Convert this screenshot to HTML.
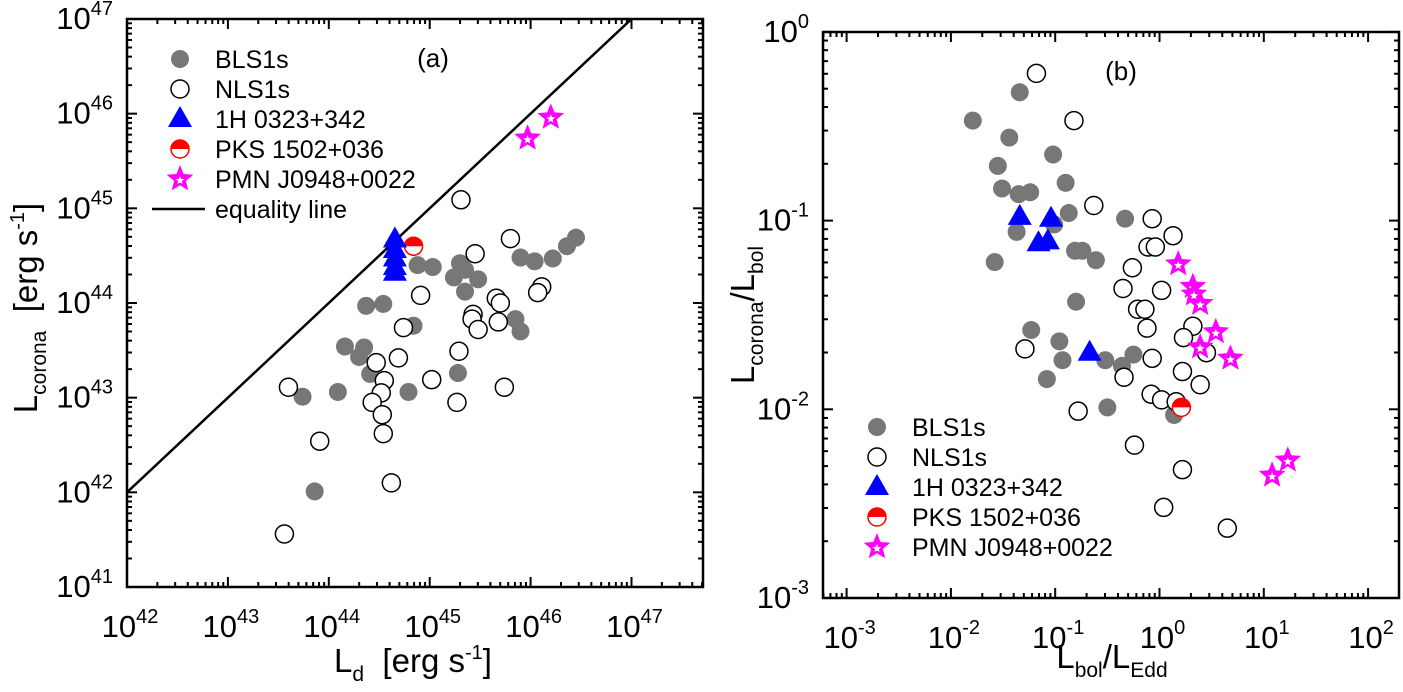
<!DOCTYPE html>
<html><head><meta charset="utf-8">
<style>
html,body{margin:0;padding:0;background:#fff;}
svg{display:block;font-family:"Liberation Sans",Arial,sans-serif;}
</style></head>
<body>
<svg id="fig" width="1403" height="692" viewBox="0 0 1403 692" xmlns="http://www.w3.org/2000/svg"></svg>
<script>
// ---------- Panel (a) data: log10 values ----------
const aBlsX = [44.88,45.03,45.30,45.35,45.24,45.48,45.35,45.90,46.04,46.22,46.36,46.45,44.37,44.54,45.85,45.90,44.84,44.16,44.35,44.30,44.41,44.09,43.74,44.79,45.28,43.86];
const aBlsY = [44.40,44.38,44.42,44.35,44.27,44.25,44.12,44.48,44.44,44.47,44.60,44.69,43.97,43.99,43.83,43.70,43.76,43.54,43.53,43.43,43.25,43.06,43.01,43.06,43.26,42.01];
const aNlsX = [45.31,45.80,45.45,44.91,46.11,46.07,45.66,45.70,45.43,45.42,45.48,45.68,44.74,44.69,44.47,45.29,44.55,44.52,44.43,44.53,45.02,45.27,45.74,43.60,43.91,44.54,44.62,43.56];
const aNlsY = [45.09,44.68,44.52,44.08,44.17,44.11,44.05,44.00,43.88,43.83,43.72,43.80,43.74,43.42,43.37,43.49,43.18,43.05,42.95,42.82,43.19,42.95,43.11,43.11,42.54,42.62,42.10,41.56];
const aTriX = [44.655,44.655,44.655,44.655,44.655];
const aTriY = [44.67,44.56,44.47,44.38,44.32];
const aPksX = [44.84];
const aPksY = [44.60];
const aStarX = [45.97,46.20];
const aStarY = [45.74,45.96];
const aXTicks = [42,43,44,45,46,47];
const aYTicks = [41,42,43,44,45,46,47];

// ---------- Panel (b) data: log10 values ----------
const bBlsX = [-1.79,-1.34,-1.44,-1.55,-1.02,-1.51,-1.35,-1.24,-0.90,-0.87,-1.01,-1.37,-1.58,-0.81,-0.74,-0.61,-0.33,-0.80,-1.23,-0.96,-0.93,-1.08,-0.52,-0.36,-0.25,-0.50,0.14];
const bBlsY = [-0.47,-0.32,-0.56,-0.71,-0.65,-0.83,-0.86,-0.85,-0.80,-0.96,-1.02,-1.06,-1.22,-1.16,-1.16,-1.21,-0.99,-1.43,-1.58,-1.64,-1.74,-1.84,-1.74,-1.77,-1.71,-1.99,-2.03];
const bNlsX = [-1.18,-0.82,-0.63,-0.07,0.13,-0.11,-0.04,-0.26,-0.35,0.02,-0.21,-0.14,-0.12,0.32,0.23,0.45,-1.29,-0.07,-0.34,0.22,0.39,-0.08,0.02,0.16,-0.78,-0.24,0.22,0.04,0.65];
const bNlsY = [-0.22,-0.47,-0.92,-0.99,-1.08,-1.14,-1.14,-1.25,-1.36,-1.37,-1.47,-1.47,-1.57,-1.56,-1.62,-1.70,-1.68,-1.73,-1.83,-1.80,-1.87,-1.92,-1.95,-1.96,-2.01,-2.19,-2.32,-2.52,-2.63];
const bTriX = [-1.34,-1.04,-1.16,-1.07,-0.67];
const bTriY = [-0.98,-0.99,-1.12,-1.11,-1.70];
const bPksX = [0.21];
const bPksY = [-1.99];
const bStarX = [0.18,0.32,0.33,0.39,0.54,0.39,0.68,1.08,1.23];
const bStarY = [-1.23,-1.35,-1.39,-1.44,-1.59,-1.67,-1.73,-2.35,-2.27];
const bXTicks = [-3,-2,-1,0,1,2];
const bYTicks = [-3,-2,-1,0];

const NS = "http://www.w3.org/2000/svg";
const svg = document.getElementById('fig');
function el(tag, attrs, parent){ const e=document.createElementNS(NS,tag); for(const k in attrs) e.setAttribute(k,attrs[k]); (parent||svg).appendChild(e); return e; }

const A = {L:127,R:703,T:19,B:587, x0:42, xd:100.9, y0:41, yd:94.67};
const Bp = {L:823,R:1399,T:32,B:598, x0:-3, xOrigin:846.6, xd:104.3, y0:-3, yd:188.7};
function axA(v){ return A.L + (v-A.x0)*A.xd; }
function ayA(v){ return A.B - (v-A.y0)*A.yd; }
function axB(v){ return Bp.xOrigin + (v-Bp.x0)*Bp.xd; }
function ayB(v){ return Bp.B - (v-Bp.y0)*Bp.yd; }

function starPts(cx,cy,ro,ri){ let p=[]; for(let i=0;i<10;i++){ const r=i%2?ri:ro; const a=-Math.PI/2+i*Math.PI/5; p.push((cx+r*Math.cos(a)).toFixed(1)+','+(cy+r*Math.sin(a)).toFixed(1)); } return p.join(' '); }

function drawCircle(g,x,y,filled,name){
  const c = el('circle',{cx:x,cy:y,r:9,fill:filled?'#777777':'#ffffff',stroke:filled?'#777777':'#000',"stroke-width":filled?0:1.5},g);
  
  
}
function drawTri(g,x,y,name){
  const t = el('polygon',{points:`${x},${y-13} ${x-12},${y+8} ${x+12},${y+8}`,fill:'#0000ff'},g);
  
  
}
function drawPks(g,x,y,name){
  const gg = el('g',{},g);
  
  
  el('circle',{cx:x,cy:y,r:9,fill:'#fff',stroke:'#ff0000','stroke-width':1.5},gg);
  el('path',{d:`M${x-9},${y} A9,9 0 0 1 ${x+9},${y} Z`,fill:'#ff0000'},gg);
}
function drawStar(g,x,y,name){
  const gg = el('g',{},g);
  
  
  el('polygon',{points:starPts(x,y,14,6.2),fill:'#ff00ff'},gg);
  el('polygon',{points:starPts(x,y+1.5,4.5,2),fill:'#fff'},gg);
}

function drawAxes(P, xs, ys, xTicks, yTicks, xMin, xMax, yMin, yMax, prefix){
  const g = el('g',{});
  
  
  el('rect',{x:P.L,y:P.T,width:P.R-P.L,height:P.B-P.T,fill:'none',stroke:'#000','stroke-width':2.5},g);
  for(let d=Math.floor(xMin); d<=Math.ceil(xMax); d++){
    for(let m=1;m<10;m++){
      const v=d+Math.log10(m); if(v<xMin||v>xMax) continue;
      const X=xs(v); const len=m===1?10:5;
      el('line',{x1:X,y1:P.B,x2:X,y2:P.B-len,stroke:'#000','stroke-width':2},g);
      el('line',{x1:X,y1:P.T,x2:X,y2:P.T+len,stroke:'#000','stroke-width':2},g);
    }
  }
  for(let d=Math.floor(yMin); d<=Math.ceil(yMax); d++){
    for(let m=1;m<10;m++){
      const v=d+Math.log10(m); if(v<yMin||v>yMax) continue;
      const Y=ys(v); const len=m===1?10:5;
      el('line',{x1:P.L,y1:Y,x2:P.L+len,y2:Y,stroke:'#000','stroke-width':2},g);
      el('line',{x1:P.R,y1:Y,x2:P.R-len,y2:Y,stroke:'#000','stroke-width':2},g);
    }
  }
  xTicks.forEach(v=>{
    const t=el('text',{x:xs(v)+3,y:P.B+50,'text-anchor':'middle','font-size':31},g);
    
    
    t.innerHTML = `10<tspan dy="-14" font-size="20">${v}</tspan>`;
  });
  yTicks.forEach(v=>{
    const t=el('text',{x:P.L-14,y:ys(v)+10,'text-anchor':'end','font-size':31},g);
    
    
    t.innerHTML = `10<tspan dy="-14" font-size="20">${v}</tspan>`;
  });
}

// ----- Panel A -----
drawAxes(A, axA, ayA, aXTicks, aYTicks, 42, 42+(A.R-A.L)/A.xd, 41, 47, 'panel-a');
const cp = el('clipPath',{id:'clipA'});
el('rect',{x:A.L,y:A.T,width:A.R-A.L,height:A.B-A.T},cp);
const eq = el('line',{x1:axA(42),y1:ayA(42),x2:axA(47.1),y2:ayA(47.1),stroke:'#000','stroke-width':2.5,'clip-path':'url(#clipA)'});


const gA = el('g',{});


aBlsX.forEach((v,i)=>drawCircle(gA,axA(v),ayA(aBlsY[i]),true,'bls1s-point'));
aNlsX.forEach((v,i)=>drawCircle(gA,axA(v),ayA(aNlsY[i]),false,'nls1s-point'));
aPksX.forEach((v,i)=>drawPks(gA,axA(v),ayA(aPksY[i]),'pks1502-point'));
aTriX.forEach((v,i)=>drawTri(gA,axA(v),ayA(aTriY[i]),'1h0323-point'));
aStarX.forEach((v,i)=>drawStar(gA,axA(v),ayA(aStarY[i]),'pmnj0948-point'));

// ----- Panel B -----
drawAxes(Bp, axB, ayB, bXTicks, bYTicks, -3-(Bp.xOrigin-Bp.L)/Bp.xd, -3+(Bp.R-Bp.xOrigin)/Bp.xd, -3, 0, 'panel-b');
const gB = el('g',{});


bBlsX.forEach((v,i)=>drawCircle(gB,axB(v),ayB(bBlsY[i]),true,'bls1s-point'));
bNlsX.forEach((v,i)=>drawCircle(gB,axB(v),ayB(bNlsY[i]),false,'nls1s-point'));
bPksX.forEach((v,i)=>drawPks(gB,axB(v),ayB(bPksY[i]),'pks1502-point'));
bTriX.forEach((v,i)=>drawTri(gB,axB(v),ayB(bTriY[i]),'1h0323-point'));
bStarX.forEach((v,i)=>drawStar(gB,axB(v),ayB(bStarY[i]),'pmnj0948-point'));

// ----- Legends -----
const legLabels = ['BLS1s','NLS1s','1H 0323+342','PKS 1502+036','PMN J0948+0022'];
function legend(mx, tx, y0, dy, withLine, prefix){
  const g = el('g',{});
  
  
  legLabels.forEach((lab,i)=>{
    const y=y0+i*dy;
    if(i===0) drawCircle(g,mx,y,true,'legend-bls1s-marker');
    if(i===1) drawCircle(g,mx,y,false,'legend-nls1s-marker');
    if(i===2) drawTri(g,mx,y,'legend-1h0323-marker');
    if(i===3) drawPks(g,mx,y,'legend-pks1502-marker');
    if(i===4) drawStar(g,mx,y,'legend-pmnj0948-marker');
    const t=el('text',{x:tx,y:y+9,'font-size':25},g);
    t.textContent=lab;
    
    
  });
  if(withLine){
    const y=y0+5*dy;
    el('line',{x1:152,y1:y,x2:205,y2:y,stroke:'#000','stroke-width':2.5},g);
    const t=el('text',{x:tx,y:y+9,'font-size':25},g);
    t.textContent='equality line';
    
    
  }
}
legend(180, 215, 59, 30, true, 'panel-a');
legend(877, 912, 427, 30, false, 'panel-b');

// ----- Titles -----
function txt(html, attrs, name){
  const t=el('text',attrs); t.innerHTML=html;
  
  
  return t;
}
txt('(a)',{x:433,y:67,'font-size':26,'text-anchor':'middle'},'panel-a-label');
txt('(b)',{x:1121,y:80,'font-size':26,'text-anchor':'middle'},'panel-b-label');
txt('L<tspan dy="9" font-size="21">d</tspan><tspan dy="-9">&#160;&#160;[erg s</tspan><tspan dy="-13" font-size="20">-1</tspan><tspan dy="13">]</tspan>',{x:413,y:672,'font-size':33,'text-anchor':'middle'},'panel-a-x-axis-title');
txt('L<tspan dy="9" font-size="21">corona</tspan><tspan dy="-9">&#160;&#160;[erg s</tspan><tspan dy="-13" font-size="20">-1</tspan><tspan dy="13">]</tspan>',{x:0,y:0,'font-size':33,'text-anchor':'middle',transform:'translate(37,308) rotate(-90)'},'panel-a-y-axis-title');
txt('L<tspan dy="9" font-size="21">bol</tspan><tspan dy="-9">/L</tspan><tspan dy="9" font-size="21">Edd</tspan>',{x:1112,y:668,'font-size':33,'text-anchor':'middle'},'panel-b-x-axis-title');
txt('L<tspan dy="9" font-size="21">corona</tspan><tspan dy="-9">/L</tspan><tspan dy="9" font-size="21">bol</tspan>',{x:0,y:0,'font-size':33,'text-anchor':'middle',transform:'translate(754,315) rotate(-90)'},'panel-b-y-axis-title');
</script>
</body></html>
